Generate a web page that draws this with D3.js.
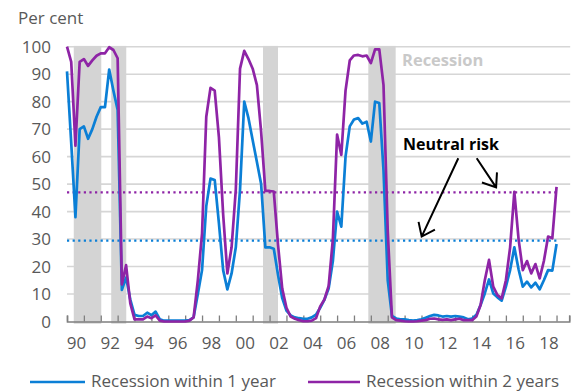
<!DOCTYPE html>
<html><head><meta charset="utf-8">
<script src="https://cdn.jsdelivr.net/npm/d3@7"></script>
<style>body{margin:0;background:#fff}svg{display:block}</style>
</head><body>
<svg id="c" width="575" height="392"></svg>
<script>
// ---- data ----
const startYear = 1990; // first quarter: 1990 Q1, quarterly observations
const within1y = [91,65,38,70,71,66.5,70,74.5,78,78,91.7,84,77,11.5,16,8,2.4,2,2,3.2,2.3,3.6,0.8,0.3,0.3,0.3,0.3,0.3,0.3,0.5,
  1.5,10,18.7,42,52,51.5,35.7,18.7,11.7,17.5,27,48,80,74,66,58,50,27,27,26.5,17,8.5,4,2.2,1.5,1.2,1,1,1.5,2.5,
  5,8,12,22,40,34.5,60,71,73.5,74,72,72.7,65.5,80,79.5,55,15,2,1.1,0.8,0.8,0.5,0.3,0.5,0.8,1.4,2,2.4,2.2,1.8,
  2,1.8,2,1.8,1.5,0.8,1.1,2.4,6,10.2,15.3,10.2,8.8,7.6,12.7,18.7,27,19,12.7,14.5,12.4,14.1,11.7,15,18.7,18.5,28.2];
const within2y = [100,94.5,64,94.5,95.5,93,95,96.7,97.6,97.6,99.8,98.8,95.8,13.5,20.5,6.6,0.8,0.8,0.8,1.8,1.2,2.2,0.3,0,0,0,0,0,0,0.3,
  1.5,15,32,74.5,85,84,67,39,17.5,27,48,92,98.5,95.5,92,86,69,47.5,47.5,47.3,28,12,5,1.8,1,0.5,0.1,0.1,0.3,1.2,
  5.5,8,13,30,68,60.6,84,95,96.8,97,96.5,96.8,94,99,99,86,33,1.5,0.5,0.3,0.1,0,0,0.1,0.3,0.5,1,1.1,0.8,0.6,
  0.8,0.5,0.8,1,0.5,0.5,0.5,1.8,6,15,22.4,12.7,9.6,8.4,15,27,47.2,30,18.7,22,17.5,20.9,15.7,22,30.9,30.3,49];
const recessionStart = [1990.40, 1992.62, 2001.61, 2007.85];
const recessionEnd   = [1992.03, 1993.51, 2002.50, 2009.47];
const neutral1y = 29.4;
const neutral2y = 47.0;
const yTicks = [0,10,20,30,40,50,60,70,80,90,100];
const xLabelYears = [1990,1992,1994,1996,1998,2000,2002,2004,2006,2008,2010,2012,2014,2016,2018];
const xLabels = ["90","92","94","96","98","00","02","04","06","08","10","12","14","16","18"];
const seriesNames = ["Recession within 1 year","Recession within 2 years"];
// annotation arrows: [fromYear, fromValue, toYear, toValue]
const arrowFrom = [[2013.18, 59.4], [2014.27, 59.4]];
const arrowTo   = [[2011.01, 30.9], [2015.42, 48.8]];

const quarters = within1y.map((_, i) => startYear + i / 4);

// ---- drawing ----
const FONT = "'Open Sans', 'Noto Sans', sans-serif";
const BLUE = "#0b7fd6", PURPLE = "#8e24a6", GRID = "#d6d6d6", SHADE = "#d4d4d4", TXT = "#595959";
const svg = d3.select("#c");
const x = d3.scaleLinear().domain([1990, 2019.75]).range([67, 569.2]);
const y = d3.scaleLinear().domain([0, 100]).range([321.5, 46.7]);

// gridlines
svg.append("g").selectAll("line").data(yTicks.filter(d => d > 0)).join("line")
  .attr("x1", x(1990)).attr("x2", x(2019.75) + 1)
  .attr("y1", d => y(d)).attr("y2", d => y(d))
  .attr("stroke", GRID).attr("stroke-width", 1.6);

// recession shading
svg.append("g").selectAll("rect").data(recessionStart).join("rect")
  .attr("x", (d) => x(d))
  .attr("width", (d, i) => x(recessionEnd[i]) - x(d))
  .attr("y", y(100) - 0.8)
  .attr("height", y(0) - y(100) + 3)
  .attr("fill", SHADE);

// y labels
svg.append("g").selectAll("text").data(yTicks).join("text")
  .attr("x", 51).attr("y", d => y(d) + 6)
  .attr("text-anchor", "end")
  .attr("font-family", FONT).attr("font-size", 17).attr("fill", TXT)
  .text(d => d);

svg.append("text").attr("x", 18).attr("y", 24)
  .attr("font-family", FONT).attr("font-size", 17).attr("fill", TXT).text("Per cent");

// x axis
const xAxis = d3.axisBottom(x)
  .tickValues(d3.range(1990, 2020).concat([2019.75]))
  .tickSize(-6).tickFormat("");
const gx = svg.append("g").attr("transform", `translate(0,${y(0)})`).call(xAxis);
gx.select(".domain").attr("stroke", "#7f7f7f").attr("stroke-width", 1.6);
gx.selectAll(".tick line").attr("stroke", "#7f7f7f").attr("stroke-width", 1.3);

svg.append("g").selectAll("text").data(xLabelYears).join("text")
  .attr("x", d => x(d + 0.5) + 1).attr("y", 349)
  .attr("text-anchor", "middle")
  .attr("font-family", FONT).attr("font-size", 17).attr("fill", TXT)
  .text((d, i) => xLabels[i]);

// neutral lines
[[neutral2y, PURPLE], [neutral1y, BLUE]].forEach(([v, c]) => {
  svg.append("line").attr("x1", x(1990)).attr("x2", x(2019))
    .attr("y1", y(v)).attr("y2", y(v))
    .attr("stroke", c).attr("stroke-width", 2.2)
    .attr("stroke-dasharray", "2.2 3.4");
});

// series lines
const line = d3.line().x((d, i) => x(quarters[i])).y(d => y(d));
[[within1y, BLUE], [within2y, PURPLE]].forEach(([data, c]) => {
  svg.append("path").datum(data).attr("d", line)
    .attr("fill", "none").attr("stroke", c).attr("stroke-width", 2.7)
    .attr("stroke-linejoin", "round");
});

// Recession label
svg.append("text").attr("x", 402).attr("y", 66)
  .attr("font-family", FONT).attr("font-size", 16.5).attr("font-weight", 700)
  .attr("fill", "#c9c9c9").text("Recession");

// Neutral risk annotation
svg.append("text").attr("x", 403).attr("y", 150)
  .attr("font-family", FONT).attr("font-size", 16).attr("font-weight", 700)
  .attr("fill", "#000").text("Neutral risk");

arrowFrom.forEach((f, i) => {
  const x1 = x(f[0]), y1 = y(f[1]), x2 = x(arrowTo[i][0]), y2 = y(arrowTo[i][1]);
  const ang = Math.atan2(y1 - y2, x1 - x2);
  const L = 15, A = 37 * Math.PI / 180;
  const p = d3.path();
  p.moveTo(x1, y1); p.lineTo(x2, y2);
  p.moveTo(x2 + L * Math.cos(ang + A), y2 + L * Math.sin(ang + A));
  p.lineTo(x2, y2);
  p.lineTo(x2 + L * Math.cos(ang - A), y2 + L * Math.sin(ang - A));
  svg.append("path").attr("d", p.toString()).attr("fill", "none")
    .attr("stroke", "#000").attr("stroke-width", 2);
});

// legend
const leg = svg.append("g");
[[30, 85, 91, BLUE], [308, 360, 366, PURPLE]].forEach(([a, b, t, c], i) => {
  leg.append("line").attr("x1", a).attr("x2", b).attr("y1", 382).attr("y2", 382)
    .attr("stroke", c).attr("stroke-width", 2.7);
  leg.append("text").attr("x", t).attr("y", 387)
    .attr("font-family", FONT).attr("font-size", 17).attr("fill", TXT)
    .text(seriesNames[i]);
});
</script>
</body></html>
